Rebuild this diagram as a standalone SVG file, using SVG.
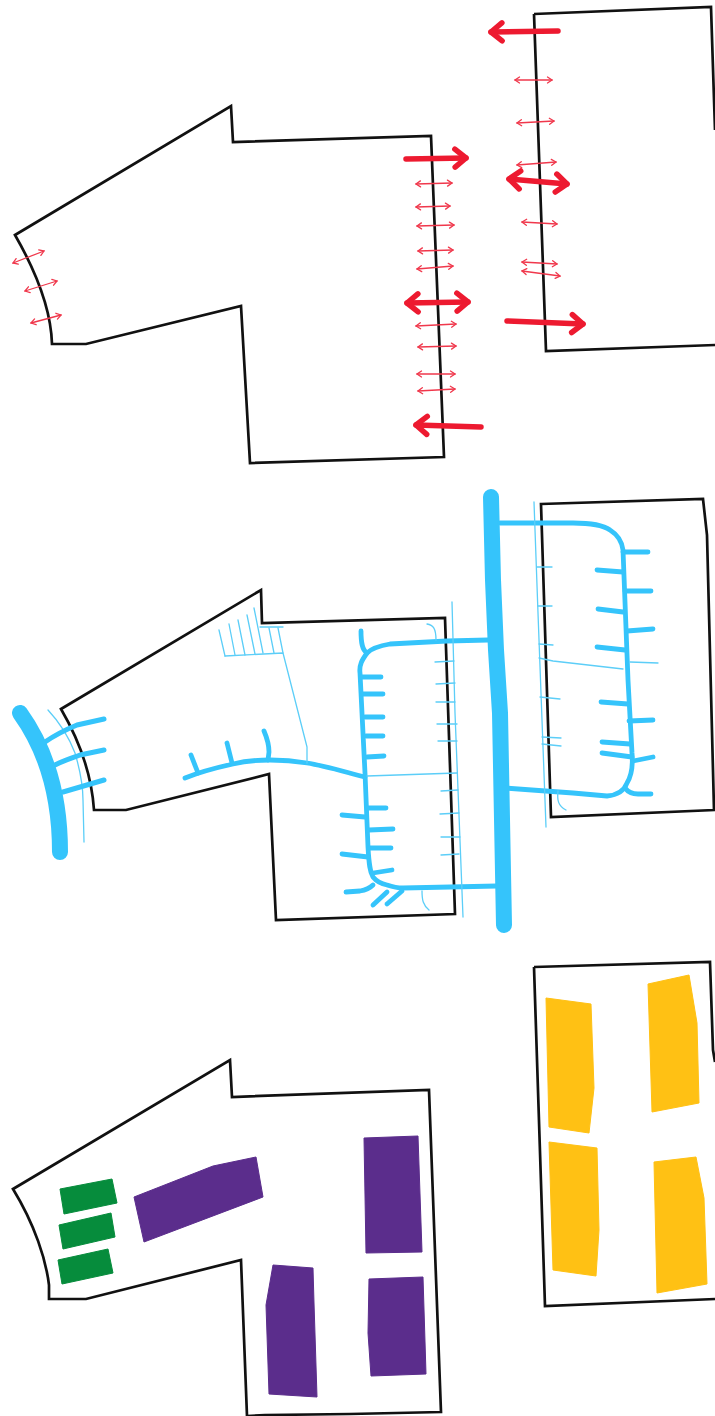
<svg xmlns="http://www.w3.org/2000/svg" width="715" height="1416" viewBox="0 0 715 1416">
<style>
.o{fill:none;stroke:#111;stroke-width:2.7;stroke-linejoin:miter}
.thin{fill:none;stroke:#f0384c;stroke-width:1.3;stroke-linecap:round;marker-start:url(#hs);marker-end:url(#hs)}
.thk{fill:none;stroke:#ed1a30;stroke-width:5.5;stroke-linecap:round}
.two{marker-start:url(#hb);marker-end:url(#hb)}
.one{marker-end:url(#hb)}
.b1{fill:none;stroke:#35c4fb;stroke-width:5;stroke-linecap:round;stroke-linejoin:round}
.b2{fill:none;stroke:#35c4fb;stroke-width:4.8;stroke-linecap:round;stroke-linejoin:round}
.b0{fill:none;stroke:#5ccef8;stroke-width:1.3;stroke-linecap:round;stroke-linejoin:round}
.bar{fill:none;stroke:#35c4fb;stroke-width:16;stroke-linecap:round;stroke-linejoin:round}
.p{fill:#5b2d8c;stroke:#5b2d8c;stroke-width:1;stroke-linejoin:round}
.g{fill:#068c3c;stroke:#068c3c;stroke-width:1;stroke-linejoin:round}
.y{fill:#ffc114;stroke:#ffc114;stroke-width:1;stroke-linejoin:round}
</style>
<defs>
<marker id="hs" markerUnits="userSpaceOnUse" markerWidth="12" markerHeight="12" refX="0" refY="0" viewBox="-8 -6 12 12" orient="auto-start-reverse" overflow="visible"><path d="M-4.5,-3 L0,0 L-4.5,3" fill="none" stroke="#f0384c" stroke-width="1.3" stroke-linecap="round"/></marker>
<marker id="hb" markerUnits="userSpaceOnUse" markerWidth="34" markerHeight="34" refX="0" refY="0" viewBox="-24 -17 34 34" orient="auto-start-reverse" overflow="visible"><path d="M-11,-9 L0,0 L-11,9" fill="none" stroke="#ed1a30" stroke-width="5.5" stroke-linecap="round" stroke-linejoin="round"/></marker>
</defs>
<rect width="715" height="1416" fill="#fff"/>

<g id="plan-top">
<path class="o" d="M15,235 L231,106 L233,142 L431,136 L444,457 L250,463 L241,306 L86,344 L52,344 C51,310 38,275 15,235 Z"/>
<path class="o" d="M534,14 L711,7 L715,130 M715,345 L546,351 L534,14"/>
</g>
<g id="connectors-top">
<path class="thin" d="M13,263 L44,251"/><path class="thin" d="M25,291 L57,281"/><path class="thin" d="M31,323 L61,315"/>
<path class="thin" d="M416,184 L452,183"/><path class="thin" d="M416,207 L450,206"/><path class="thin" d="M417,226 L454,225"/><path class="thin" d="M418,251 L453,250"/><path class="thin" d="M417,269 L453,266"/><path class="thin" d="M416,326 L456,324"/><path class="thin" d="M418,347 L456,346"/><path class="thin" d="M417,374 L455,374"/><path class="thin" d="M418,391 L455,389"/>
<path class="thin" d="M515,80 L552,80"/><path class="thin" d="M517,123 L554,121"/><path class="thin" d="M517,165 L556,162"/><path class="thin" d="M522,222 L557,224"/><path class="thin" d="M522,262 L557,264"/><path class="thin" d="M522,271 L560,276"/>
<path class="thk one" d="M558,31 L491,32"/><path class="thk two" d="M509,179 L567,184"/><path class="thk one" d="M507,321 L583,324"/>
<path class="thk one" d="M406,159 L466,158"/><path class="thk two" d="M407,303 L468,302"/><path class="thk one" d="M481,427 L416,425"/>
</g>

<g id="plan-middle">
<path class="o" d="M61,709 L261,590 L262,623 L445,618 L455,914 L276,920 L269,774 L126,810 L94,810 C92,780 82,745 61,709 Z"/>
<path class="o" d="M541,504 L703,499 L707,535 L714,810 L551,817 Z"/>
</g>
<g id="connectors-middle">
<path class="bar" d="M20,713 C43,745 60,790 60,852"/>
<path class="bar" d="M491,497 L493,580 L496,650 L500,713 L504,925"/>
<path class="b0" d="M48,710 C62,725 70,740 75,753 C80,770 83,785 83,800 L84,842"/>
<path class="b1" d="M45,742 C55,735 65,730 77,725 L104,719"/><path class="b1" d="M55,765 C65,760 72,758 80,755 L104,750"/><path class="b1" d="M63,792 L104,780"/>
<path class="b2" d="M185,778 C200,772 215,768 233,764 C245,761 258,760 270,760 C285,760 295,761 307,763 C325,766 345,772 365,777"/>
<path class="b2" d="M191,755 L198,773"/><path class="b2" d="M227,743 L232,763"/><path class="b2" d="M264,731 C267,738 269,745 269,752 L268,760"/>
<path class="b0" d="M225,656 L283,653 L307,747 L307,763"/>
<path class="b0" d="M219,630 L225,656"/><path class="b0" d="M229,624 L235,655"/><path class="b0" d="M238,620 L245,655"/><path class="b0" d="M247,615 L255,654"/><path class="b0" d="M254,608 L263,653"/><path class="b0" d="M260,627 L283,627"/><path class="b0" d="M269,628 L274,653"/><path class="b0" d="M278,628 L283,653"/>

<path class="b2" d="M488,640 L447,641 L390,644 C378,646 371,649 367,653 C362,660 359,665 360,673 L365,773 L368,847 C369,865 370,872 373,877 C377,882 382,884 387,885 C393,887 398,888 403,888 L497,886"/>
<path class="b2" d="M361,631 C361,642 362,650 367,653"/>
<path class="b2" d="M362,677 L381,677"/><path class="b2" d="M363,694 L383,694"/><path class="b2" d="M365,717 L383,717"/><path class="b2" d="M366,736 L383,736"/><path class="b2" d="M367,757 L384,756"/><path class="b2" d="M368,808 L386,808"/><path class="b2" d="M369,830 L393,829"/><path class="b2" d="M370,848 L391,848"/><path class="b2" d="M373,873 L392,870"/>
<path class="b2" d="M342,815 L365,817"/><path class="b2" d="M342,854 L368,857"/><path class="b2" d="M346,892 L360,891 C366,890 370,888 373,885"/><path class="b2" d="M373,905 L387,892"/><path class="b2" d="M387,904 L402,891"/>
<path class="b0" d="M452,602 L455,713 L463,917"/>
<path class="b0" d="M435,662 L454,661"/><path class="b0" d="M436,684 L455,683"/><path class="b0" d="M436,702 L455,702"/><path class="b0" d="M437,724 L457,724"/><path class="b0" d="M438,741 L457,741"/><path class="b0" d="M441,791 L458,790"/><path class="b0" d="M440,814 L459,813"/><path class="b0" d="M441,837 L460,837"/><path class="b0" d="M441,855 L459,854"/>
<path class="b0" d="M367,776 L457,773"/>
<path class="b0" d="M427,624 C433,625 436,628 436,640"/><path class="b0" d="M422,891 C422,900 423,905 429,910"/>

<path class="b2" d="M500,523 L573,523 C590,523 603,525 610,530 C618,535 622,542 623,550 L628,680 L632,753 C633,765 632,775 627,783 C624,791 618,795 607,796 L573,793 L505,788"/>
<path class="b2" d="M623,552 L648,552"/><path class="b2" d="M625,591 L651,591"/><path class="b2" d="M627,631 L653,629"/><path class="b2" d="M629,721 L653,720"/><path class="b2" d="M633,761 L653,757"/><path class="b2" d="M625,788 C628,792 632,794 638,794 L651,794"/>
<path class="b2" d="M597,570 L623,572"/><path class="b2" d="M598,609 L623,612"/><path class="b2" d="M597,647 L625,650"/><path class="b2" d="M601,702 L628,704"/><path class="b2" d="M602,742 L630,744"/><path class="b2" d="M602,753 L632,757"/>
<path class="b0" d="M534,502 L538,613 L546,827"/>
<path class="b0" d="M537,567 L552,567"/><path class="b0" d="M538,606 L552,606"/><path class="b0" d="M539,644 L553,645"/><path class="b0" d="M540,697 L560,699"/><path class="b0" d="M542,737 L561,738"/><path class="b0" d="M542,744 L561,746"/>
<path class="b0" d="M539,658 L553,661 L623,669"/><path class="b0" d="M630,662 L658,663"/>
<path class="b0" d="M558,791 C557,800 558,806 566,810"/>
</g>

<g id="plan-bottom">
<path class="o" d="M13,1189 L230,1060 L232,1097 L429,1090 L441,1412 L350,1414 L265,1415 L247,1416 L241,1260 L86,1299 L49,1299 L49,1285 C46,1260 35,1225 13,1189 Z"/>
<path class="o" d="M534,967 L710,962 L713,1050 L715,1062 M715,1299 L545,1306 L534,967"/>
</g>
<g id="green-blocks">
<path class="g" d="M60,1189 L112,1179 L117,1203 L64,1214 Z"/>
<path class="g" d="M59,1225 L111,1213 L115,1237 L63,1249 Z"/>
<path class="g" d="M58,1260 L108,1249 L113,1273 L62,1284 Z"/>
</g>
<g id="purple-blocks">
<path class="p" d="M134,1197 L213,1166 L256,1157 L263,1197 L144,1242 Z"/>
<path class="p" d="M273,1265 L313,1268 L314,1303 L317,1397 L269,1394 L266,1305 Z"/>
<path class="p" d="M364,1138 L418,1136 L422,1252 L366,1253 Z"/>
<path class="p" d="M369,1279 L423,1277 L426,1374 L371,1376 L368,1333 Z"/>
</g>
<g id="yellow-blocks">
<path class="y" d="M546,998 L591,1004 L594,1088 L589,1133 L549,1127 Z"/>
<path class="y" d="M648,984 L689,975 L697,1023 L699,1103 L652,1112 Z"/>
<path class="y" d="M549,1142 L597,1148 L599,1230 L596,1276 L553,1270 Z"/>
<path class="y" d="M654,1162 L696,1157 L704,1198 L707,1284 L657,1293 Z"/>
</g>
</svg>
